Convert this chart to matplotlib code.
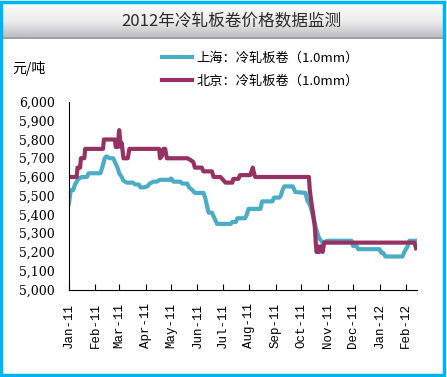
import numpy as np
import pandas as pd
import matplotlib
matplotlib.use('Agg')
import matplotlib.pyplot as plt
from matplotlib.patches import Rectangle

plt.rcParams['font.family'] = ['Noto Sans CJK SC', 'DejaVu Sans']

title = '2012年冷轧板卷价格数据监测'
unit_label = '元/吨'
sh_name = '上海：冷轧板卷（1.0mm）'
bj_name = '北京：冷轧板卷（1.0mm）'

# 北京
bj_dates = ['2011-01-01', '2011-01-10', '2011-01-11', '2011-01-14', '2011-01-15', '2011-01-19',
            '2011-01-20', '2011-02-10', '2011-02-11', '2011-02-24', '2011-02-25', '2011-02-27',
            '2011-03-01', '2011-03-03', '2011-03-04', '2011-03-06', '2011-03-11', '2011-03-13',
            '2011-04-17', '2011-04-18', '2011-04-20', '2011-04-22', '2011-04-24', '2011-04-26',
            '2011-05-20', '2011-05-24', '2011-05-27', '2011-05-29', '2011-06-06', '2011-06-08',
            '2011-06-18', '2011-06-20', '2011-06-28', '2011-06-30', '2011-07-04', '2011-07-12',
            '2011-07-13', '2011-07-19', '2011-07-21', '2011-08-02', '2011-08-05', '2011-08-07',
            '2011-08-08', '2011-10-10', '2011-10-11', '2011-10-13', '2011-10-15', '2011-10-17',
            '2011-10-18', '2011-10-19', '2011-10-21', '2011-10-22', '2011-10-24', '2011-10-26',
            '2011-10-28', '2012-02-11', '2012-02-13']
bj_vals = [5600, 5600, 5650, 5650, 5700, 5700,
           5750, 5750, 5800, 5800, 5760, 5760,
           5850, 5760, 5780, 5700, 5700, 5750,
           5750, 5700, 5710, 5750, 5750, 5700,
           5700, 5690, 5680, 5650, 5650, 5630,
           5630, 5600, 5600, 5590, 5570, 5570,
           5590, 5590, 5610, 5610, 5650, 5610,
           5600, 5600, 5530, 5460, 5400, 5330,
           5250, 5200, 5230, 5200, 5230, 5200,
           5250, 5250, 5220]

# 上海
sh_dates = ['2011-01-01', '2011-01-03', '2011-01-06', '2011-01-08', '2011-01-12', '2011-01-16',
            '2011-01-22', '2011-01-24', '2011-02-07', '2011-02-09', '2011-02-12', '2011-02-14',
            '2011-02-18', '2011-02-22', '2011-02-24', '2011-02-27', '2011-03-01', '2011-03-04',
            '2011-03-06', '2011-03-10', '2011-03-17', '2011-03-20', '2011-03-24', '2011-03-26',
            '2011-03-30', '2011-04-03', '2011-04-06', '2011-04-10', '2011-04-14', '2011-04-18',
            '2011-04-30', '2011-05-01', '2011-05-04', '2011-05-12', '2011-05-14', '2011-05-20',
            '2011-05-22', '2011-05-26', '2011-05-29', '2011-06-08', '2011-06-10', '2011-06-12',
            '2011-06-14', '2011-06-18', '2011-06-22', '2011-06-24', '2011-07-10', '2011-07-12',
            '2011-07-16', '2011-07-18', '2011-07-27', '2011-07-29', '2011-07-31', '2011-08-14',
            '2011-08-16', '2011-08-28', '2011-08-30', '2011-09-05', '2011-09-07', '2011-09-09',
            '2011-09-11', '2011-09-21', '2011-09-24', '2011-10-06', '2011-10-08', '2011-10-10',
            '2011-10-12', '2011-10-16', '2011-10-18', '2011-10-20', '2011-10-22', '2011-10-24',
            '2011-10-26', '2011-11-01', '2011-11-29', '2011-12-01', '2011-12-05', '2011-12-07',
            '2012-01-01', '2012-01-03', '2012-01-05', '2012-01-08', '2012-01-28', '2012-01-30',
            '2012-02-03', '2012-02-05', '2012-02-14']
sh_vals = [5460, 5530, 5530, 5560, 5590, 5600,
           5600, 5620, 5620, 5650, 5700, 5710,
           5700, 5700, 5680, 5650, 5620, 5600,
           5580, 5570, 5570, 5560, 5560, 5545,
           5545, 5550, 5565, 5575, 5575, 5585,
           5585, 5592, 5575, 5575, 5565, 5565,
           5545, 5530, 5515, 5515, 5490, 5450,
           5410, 5410, 5370, 5350, 5350, 5360,
           5360, 5380, 5380, 5400, 5430, 5430,
           5470, 5470, 5490, 5490, 5500, 5530,
           5550, 5550, 5520, 5515, 5476, 5460,
           5440, 5370, 5333, 5300, 5273, 5262,
           5250, 5260, 5260, 5232, 5232, 5215,
           5215, 5196, 5196, 5176, 5176, 5200,
           5230, 5260, 5260]

month_ticks = pd.date_range('2011-01-01', '2012-02-01', freq='MS')
y_ticks = list(range(5000, 6001, 100))

fig = plt.figure(figsize=(4.47, 3.77), dpi=100)

# title banner with gradient
bax = fig.add_axes([3 / 447, 1 - 39 / 377, 440 / 447, 35 / 377])
grad = np.linspace(0, 1, 100).reshape(-1, 1)
bax.imshow(grad, aspect='auto', cmap=matplotlib.colors.LinearSegmentedColormap.from_list(
    'g', ['#fbfbf8', '#ececec', '#b8b8be']), extent=[0, 1, 0, 1], origin='upper')
bax.axhline(0.02, color='#9a9aa0', lw=1.2)
bax.set_axis_off()
bax.text(0.52, 0.5, title, ha='center', va='center', fontsize=12, color='#2a2a2a')

# cyan frame
fig.patches.append(Rectangle((0.002, 0.004), 0.992, 0.992, transform=fig.transFigure,
                             fill=False, edgecolor='#00b4f0', lw=2.5))

ax = fig.add_axes([69 / 447, 87.5 / 377, 348 / 447, 187.5 / 377])
ax.plot(pd.to_datetime(sh_dates), sh_vals, color='#4bacc6', lw=3, label=sh_name)
ax.plot(pd.to_datetime(bj_dates), bj_vals, color='#953263', lw=3, label=bj_name)

ax.set_xlim(pd.Timestamp('2011-01-01'), pd.Timestamp('2012-02-14'))
ax.set_ylim(5000, 6000)
ax.set_yticks(y_ticks)
ax.set_yticklabels([f'{v:,}' for v in y_ticks], fontsize=9, family='DejaVu Serif')
ax.set_xticks(month_ticks)
ax.set_xticklabels([d.strftime('%b-%y') for d in month_ticks], rotation=90,
                   fontsize=9, family='Liberation Mono')
ax.tick_params(axis='y', length=0, pad=10)
ax.tick_params(axis='x', direction='in', length=4, pad=10)
for s in ['top', 'right']:
    ax.spines[s].set_visible(False)

fig.legend(loc='upper left', bbox_to_anchor=(162 / 447, 1 - 52 / 377), frameon=False,
           fontsize=9.5, handlelength=2.3, labelspacing=0.7, handletextpad=0.3,
           borderpad=0, borderaxespad=0)
fig.text(12 / 447, 1 - 69 / 377, unit_label, fontsize=10, va='center')

fig.savefig('out.png', dpi=100)
